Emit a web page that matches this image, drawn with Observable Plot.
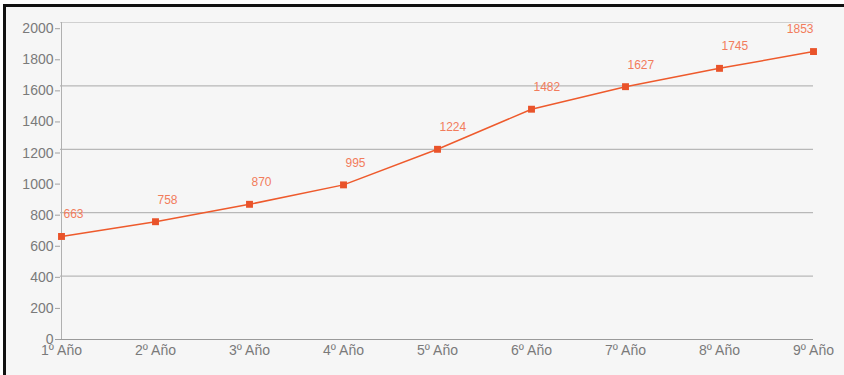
<!DOCTYPE html>
<html>
<head>
<meta charset="utf-8">
<script src="https://cdn.jsdelivr.net/npm/d3@7"></script>
<script src="https://cdn.jsdelivr.net/npm/@observablehq/plot@0.6"></script>
<style>
  html, body { margin: 0; padding: 0; background: #fff; }
  #frame {
    position: absolute; left: 3px; top: 4px; width: 841px; height: 371px;
    box-sizing: border-box;
    border-top: 3px solid #111; border-left: 3px solid #111;
    background: #f6f6f6;
  }
  #chart { position: absolute; left: 0; top: 0; }
</style>
</head>
<body>
<div id="frame"></div>
<div id="chart"></div>
<script>
// Yearly totals
const categories = ["1º Año", "2º Año", "3º Año", "4º Año", "5º Año", "6º Año", "7º Año", "8º Año", "9º Año"];
const values = [663, 758, 870, 995, 1224, 1482, 1627, 1745, 1853];
const yTicks = [0, 200, 400, 600, 800, 1000, 1200, 1400, 1600, 1800, 2000];
const yMax = 2040;
const gridBands = 5;

const data = categories.map((c, i) => ({year: c, value: values[i]}));
const gridValues = d3.range(1, gridBands).map(i => yMax * i / gridBands);
const last = data.length - 1;

const lineColor = "#ee5a2c";
const labelColor = "#f27c5c";
const axisText = "#7a7a7a";

const chart = Plot.plot({
  width: 844,
  height: 375,
  marginLeft: 60,
  marginRight: 31,
  marginTop: 22,
  marginBottom: 36,
  style: {background: "transparent", fontFamily: "'Liberation Sans', Arial, Helvetica, sans-serif"},
  x: {type: "point", domain: categories, padding: 0},
  y: {domain: [0, yMax]},
  marks: [
    Plot.ruleY(gridValues, {stroke: "#a9a9a9"}),
    Plot.ruleY([yMax], {stroke: "#d0d0d0"}),
    Plot.ruleY([0], {stroke: "#9a9a9a"}),
    Plot.ruleX([categories[0]], {y1: 0, y2: yMax, stroke: "#b0b0b0"}),
    Plot.axisY({ticks: yTicks, tickFormat: d => String(d), tickSize: 5, tickPadding: 2, label: null, fontSize: 14, fill: axisText, stroke: "#a0a0a0"}),
    Plot.axisX({tickSize: 0, tickPadding: 6, label: null, fontSize: 14, fill: axisText}),
    Plot.line(data, {x: "year", y: "value", stroke: lineColor, strokeWidth: 1.5}),
    Plot.dot(data, {x: "year", y: "value", symbol: "square", r: 3.9, fill: "#e9532a"}),
    Plot.text(data.slice(0, last), {x: "year", y: "value", text: d => String(d.value), textAnchor: "start", dx: 2, dy: -22, fontSize: 12, fill: labelColor}),
    Plot.text(data.slice(last), {x: "year", y: "value", text: d => String(d.value), textAnchor: "end", dx: 0, dy: -22, fontSize: 12, fill: labelColor})
  ]
});

document.getElementById("chart").appendChild(chart);
</script>
</body>
</html>
